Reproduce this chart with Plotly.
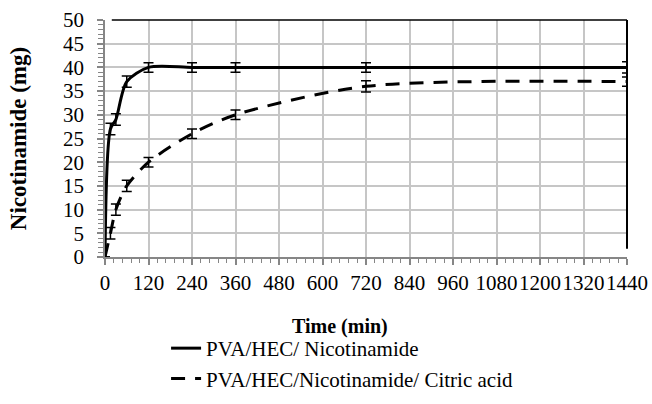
import plotly.graph_objects as go

time_min = [0, 15, 30, 60, 120, 240, 360, 720, 1440]
pva_hec_nic = [0, 27, 29, 37, 40, 40, 40, 40, 40]
pva_hec_nic_err = [0, 1.2, 1.2, 1.2, 1.0, 1.0, 1.0, 1.0, 1.2]
pva_hec_nic_ca = [0, 5, 10, 15, 20, 26, 30, 36, 37]
pva_hec_nic_ca_err = [0, 1.2, 1.2, 1.2, 1.0, 1.0, 1.0, 1.2, 1.0]
x_ticks = list(range(0, 1441, 120))
y_ticks = list(range(0, 51, 5))

FONT = "Liberation Serif, Times New Roman, Times, serif"
AX = "#868686"
GRID = "#c6c6c6"
W, H = 652, 404

fig = go.Figure()
fig.add_trace(go.Scatter(
    x=time_min, y=pva_hec_nic, mode="lines", name="PVA/HEC/ Nicotinamide",
    line=dict(color="black", width=3, shape="spline", smoothing=0.8),
    error_y=dict(type="data", array=pva_hec_nic_err, color="black", thickness=1.5, width=5),
    cliponaxis=False, legendgroup="a"))
fig.add_trace(go.Scatter(
    x=time_min, y=pva_hec_nic_ca, mode="lines", name="PVA/HEC/Nicotinamide/ Citric acid",
    line=dict(color="black", width=3, dash="14px,10px", shape="spline", smoothing=0.8),
    error_y=dict(type="data", array=pva_hec_nic_ca_err, color="black", thickness=1.5, width=5),
    cliponaxis=False, legendgroup="b"))

fig.update_layout(
    width=W, height=H,
    margin=dict(l=105, r=25, t=20, b=147, autoexpand=False),
    paper_bgcolor="white", plot_bgcolor="white",
    font=dict(family=FONT, size=20, color="black"),
    showlegend=True,
    legend=dict(x=0.117, y=1 - 328 / H, xref="paper", yref="container",
                xanchor="left", yanchor="top",
                font=dict(family=FONT, size=21), tracegroupgap=0,
                bgcolor="rgba(0,0,0,0)"),
    xaxis=dict(range=[0, 1440], tickmode="array", tickvals=x_ticks,
               ticktext=[str(v) for v in x_ticks], tickangle=0,
               showgrid=True, gridcolor=GRID, gridwidth=1.5,
               showline=True, linecolor=AX, linewidth=1.5,
               ticks="outside", ticklen=6, tickcolor=AX, tickwidth=1.5,
               minor=dict(dtick=24, ticks="outside", ticklen=4, tickcolor=AX, tickwidth=1, showgrid=False),
               zeroline=False, automargin=False,
               tickfont=dict(family=FONT, size=21)),
    yaxis=dict(range=[0, 50], tickmode="array", tickvals=y_ticks,
               showgrid=True, gridcolor=GRID, gridwidth=1.5,
               showline=True, linecolor=AX, linewidth=1.5,
               ticks="outside", ticklen=6, tickcolor=AX, tickwidth=1.5,
               minor=dict(dtick=1, ticks="outside", ticklen=5, tickcolor=AX, tickwidth=1, showgrid=False),
               zeroline=False, automargin=False, ticklabelstandoff=9,
               title=dict(text="<b>Nicotinamide (mg)</b>", font=dict(family=FONT, size=23), standoff=30),
               tickfont=dict(family=FONT, size=21)),
    xaxis2=dict(overlaying="x", range=[0, 1440], tickmode="array", tickvals=x_ticks,
                showticklabels=False, showgrid=False, zeroline=False, showline=False,
                ticks="inside", ticklen=6, tickcolor=AX, tickwidth=1.5,
                minor=dict(dtick=24, ticks="inside", ticklen=4, tickcolor=AX, tickwidth=1),
                anchor="y"),
    yaxis2=dict(overlaying="y", range=[0, 50], tickmode="array", tickvals=y_ticks,
                showticklabels=False, showgrid=False, zeroline=False, showline=False,
                ticks="inside", ticklen=6, tickcolor=AX, tickwidth=1.5,
                minor=dict(dtick=1, ticks="inside", ticklen=5, tickcolor=AX, tickwidth=1),
                anchor="x", side="left"),
    annotations=[
        dict(text="<b>Time (min)</b>", xref="paper", yref="paper",
             x=(340 - 105) / 522, y=(257 - 326) / 237, xanchor="center", yanchor="middle",
             showarrow=False, font=dict(family=FONT, size=20)),
    ],
    shapes=[
        dict(type="line", xref="paper", yref="paper", x0=0.013, x1=1, y0=1, y1=1,
             line=dict(color="black", width=1.5)),
        dict(type="line", xref="paper", yref="paper", x0=1, x1=1, y0=0.035, y1=1,
             line=dict(color="black", width=2)),
    ],
)

fig.write_html("out.html", config={"displayModeBar": False},
               post_script="document.body.style.margin='0';document.body.style.padding='0';")
